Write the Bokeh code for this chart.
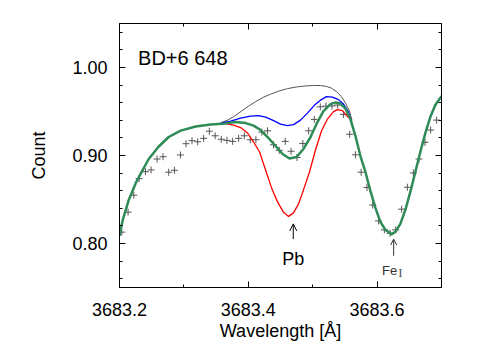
from bokeh.plotting import figure
from bokeh.models import Range1d, FixedTicker, PrintfTickFormatter, LinearAxis, Label, Arrow, OpenHead
from bokeh.embed import file_html
from bokeh.resources import INLINE

# ---------------- data ----------------
x_major_ticks = [3683.2, 3683.4, 3683.6]
x_minor_ticks = [3683.3, 3683.5, 3683.7]
y_major_ticks = [0.80, 0.90, 1.00]
y_minor_ticks = [0.76, 0.78, 0.82, 0.84, 0.86, 0.88, 0.92, 0.94, 0.96, 0.98, 1.02, 1.04]

obs_wl = [3683.2036, 3683.2133, 3683.2222, 3683.2304, 3683.2403, 3683.2490, 3683.2583,
          3683.2676, 3683.2764, 3683.2853, 3683.2946, 3683.3033, 3683.3126, 3683.3214,
          3683.3307, 3683.3395, 3683.3485, 3683.3581, 3683.3668, 3683.3757, 3683.3850,
          3683.3938, 3683.4031, 3683.4118, 3683.4211, 3683.4299, 3683.4392, 3683.4481,
          3683.4574, 3683.4664, 3683.4757, 3683.4847, 3683.4938, 3683.5025, 3683.5118,
          3683.5206, 3683.5299, 3683.5388, 3683.5477, 3683.5575, 3683.5663, 3683.5752,
          3683.5842, 3683.5932, 3683.6023, 3683.6113, 3683.6203, 3683.6288, 3683.6381,
          3683.6470, 3683.6563, 3683.6651, 3683.6744, 3683.6831, 3683.6924]
obs_count = [0.8129, 0.8356, 0.8549, 0.8737, 0.8816, 0.8836, 0.8960, 0.8986, 0.8810,
             0.8832, 0.9006, 0.9134, 0.9168, 0.9156, 0.9195, 0.9276, 0.9224, 0.9184,
             0.9172, 0.9161, 0.9195, 0.9224, 0.9179, 0.9179, 0.9266, 0.9281, 0.9122,
             0.9059, 0.9161, 0.9048, 0.8977, 0.9136, 0.9281, 0.9410, 0.9553, 0.9561,
             0.9563, 0.9573, 0.9467, 0.9241, 0.9008, 0.8810, 0.8637, 0.8437, 0.8257,
             0.8155, 0.8116, 0.8155, 0.8390, 0.8639, 0.8802, 0.8960, 0.9150, 0.9289,
             0.9402]

fit_wl = [3683.2000, 3683.2051, 3683.2144, 3683.2253, 3683.2361, 3683.2454, 3683.2609,
          3683.2764, 3683.2950, 3683.3183, 3683.3415, 3683.3648, 3683.3803, 3683.3958,
          3683.4082, 3683.4191, 3683.4299, 3683.4423, 3683.4532, 3683.4640, 3683.4749,
          3683.4857, 3683.4966, 3683.5074, 3683.5167, 3683.5276, 3683.5354, 3683.5431,
          3683.5509, 3683.5586, 3683.5664, 3683.5741, 3683.5819, 3683.5896, 3683.5974,
          3683.6051, 3683.6129, 3683.6222, 3683.6284, 3683.6361, 3683.6439, 3683.6516,
          3683.6594, 3683.6671, 3683.6749, 3683.6826, 3683.6904, 3683.7000]
fit_count = [0.8087, 0.8269, 0.8495, 0.8688, 0.8836, 0.8960, 0.9102, 0.9210, 0.9283,
             0.9329, 0.9351, 0.9365, 0.9380, 0.9368, 0.9340, 0.9289, 0.9210, 0.9108,
             0.9017, 0.8966, 0.8983, 0.9074, 0.9210, 0.9380, 0.9505, 0.9584, 0.9603,
             0.9590, 0.9533, 0.9414, 0.9221, 0.8994, 0.8813, 0.8597, 0.8405, 0.8246,
             0.8155, 0.8104, 0.8133, 0.8223, 0.8382, 0.8586, 0.8813, 0.9040, 0.9255,
             0.9437, 0.9573, 0.9675]

red_wl = [3683.3648, 3683.3772, 3683.3881, 3683.3989, 3683.4082, 3683.4175, 3683.4268,
          3683.4361, 3683.4454, 3683.4547, 3683.4625, 3683.4702, 3683.4780, 3683.4857,
          3683.4950, 3683.5043, 3683.5136, 3683.5229, 3683.5322, 3683.5384, 3683.5462,
          3683.5540, 3683.5586]
red_count = [0.9363, 0.9346, 0.9317, 0.9255, 0.9153, 0.9040, 0.8836, 0.8632, 0.8473,
             0.8354, 0.8308, 0.8348, 0.8450, 0.8609, 0.8813, 0.9062, 0.9278, 0.9414,
             0.9499, 0.9522, 0.9510, 0.9442, 0.9414]

blue_wl = [3683.3571, 3683.3726, 3683.3881, 3683.4036, 3683.4160, 3683.4268, 3683.4377,
           3683.4501, 3683.4609, 3683.4702, 3683.4811, 3683.4919, 3683.5028, 3683.5121,
           3683.5214, 3683.5307, 3683.5400, 3683.5478, 3683.5555, 3683.5600]
blue_count = [0.9368, 0.9391, 0.9425, 0.9448, 0.9454, 0.9437, 0.9402, 0.9357, 0.9340,
              0.9351, 0.9402, 0.9482, 0.9573, 0.9629, 0.9669, 0.9663, 0.9635, 0.9584,
              0.9493, 0.9395]

gray_wl = [3683.3571, 3683.3679, 3683.3788, 3683.3896, 3683.4005, 3683.4113, 3683.4222,
           3683.4346, 3683.4470, 3683.4609, 3683.4749, 3683.4888, 3683.5012, 3683.5121,
           3683.5214, 3683.5291, 3683.5369, 3683.5447, 3683.5509, 3683.5571, 3683.5610]
gray_count = [0.9372, 0.9402, 0.9448, 0.9505, 0.9561, 0.9612, 0.9658, 0.9697, 0.9731,
              0.9760, 0.9779, 0.9790, 0.9796, 0.9795, 0.9785, 0.9765, 0.9726, 0.9669,
              0.9595, 0.9505, 0.9400]

star_name = "BD+6 648"
x_label = "Wavelength [Å]"
y_label = "Count"

FONT = "Liberation Sans"

# ---------------- figure ----------------
p = figure(width=500, height=350, output_backend="svg", toolbar_location=None,
           x_range=Range1d(3683.2, 3683.7), y_range=Range1d(0.75, 1.05),
           min_border_left=119, min_border_right=59, min_border_top=23,
           min_border_bottom=63)
p.grid.visible = False
p.outline_line_color = "black"
p.outline_line_width = 1
p.background_fill_color = "white"
p.border_fill_color = "white"

xt = FixedTicker(ticks=x_major_ticks, minor_ticks=x_minor_ticks)
yt = FixedTicker(ticks=y_major_ticks, minor_ticks=y_minor_ticks)


def style_axis(ax, ticker, show_labels):
    ax.ticker = ticker
    ax.axis_line_color = "black"
    ax.major_tick_line_color = "black"
    ax.minor_tick_line_color = "black"
    ax.major_tick_in = 6
    ax.major_tick_out = 0
    ax.minor_tick_in = 3
    ax.minor_tick_out = 0
    if show_labels:
        ax.major_label_text_font = FONT
        ax.major_label_text_font_size = "18px"
        ax.major_label_text_color = "black"
        ax.axis_label_text_font = FONT
        ax.axis_label_text_font_size = "18px"
        ax.axis_label_text_font_style = "normal"
        ax.axis_label_text_color = "black"
    else:
        ax.major_label_text_font_size = "8px"
        ax.major_label_text_color = None
        ax.major_label_standoff = 0


xa = p.xaxis[0]
style_axis(xa, xt, True)
xa.axis_label = x_label
xa.major_label_standoff = 15
xa.axis_label_standoff = 2

ya = p.yaxis[0]
style_axis(ya, yt, True)
ya.formatter = PrintfTickFormatter(format="%.2f")
ya.axis_label = y_label
ya.major_label_standoff = 12
ya.axis_label_standoff = 20

top_ax = LinearAxis()
style_axis(top_ax, xt, False)
p.add_layout(top_ax, "above")
right_ax = LinearAxis()
style_axis(right_ax, yt, False)
p.add_layout(right_ax, "right")

# ---------------- glyphs ----------------
p.scatter(obs_wl, obs_count, marker="cross", size=7, line_color="#555555", line_width=1)
p.line(gray_wl, gray_count, line_color="#555555", line_width=1)
p.line(blue_wl, blue_count, line_color="#0000ff", line_width=1.3)
p.line(red_wl, red_count, line_color="#ff0000", line_width=1.3)
p.line(fit_wl, fit_count, line_color="#2e8b57", line_width=2.5)

# ---------------- annotations ----------------
p.add_layout(Label(x=3683.2288, y=1.0109, text=star_name, text_font=FONT,
                   text_font_size="20px", text_baseline="alphabetic", text_color="black"))

p.add_layout(Arrow(end=OpenHead(size=7, line_width=1, line_color="black"),
                   x_start=3683.4698, y_start=0.8050, x_end=3683.4698, y_end=0.8223,
                   line_width=1, line_color="black"))
p.add_layout(Label(x=3683.4698, y=0.7827, text="Pb", text_font=FONT, text_font_size="18px",
                   text_align="center", text_baseline="alphabetic", text_color="black"))

p.add_layout(Arrow(end=OpenHead(size=6, line_width=1, line_color="#333333"),
                   x_start=3683.6257, y_start=0.7861, x_end=3683.6257, y_end=0.8050,
                   line_width=1, line_color="#333333"))
p.add_layout(Label(x=3683.6078, y=0.7696, text="Fe", text_font=FONT, text_font_size="13px",
                   text_baseline="alphabetic", text_color="#333333"))
p.add_layout(Label(x=3683.6330, y=0.7671, text="I", text_font="Liberation Serif",
                   text_font_size="13px", text_baseline="alphabetic", text_color="#555555"))

open("out.html", "w").write(file_html(p, INLINE))
